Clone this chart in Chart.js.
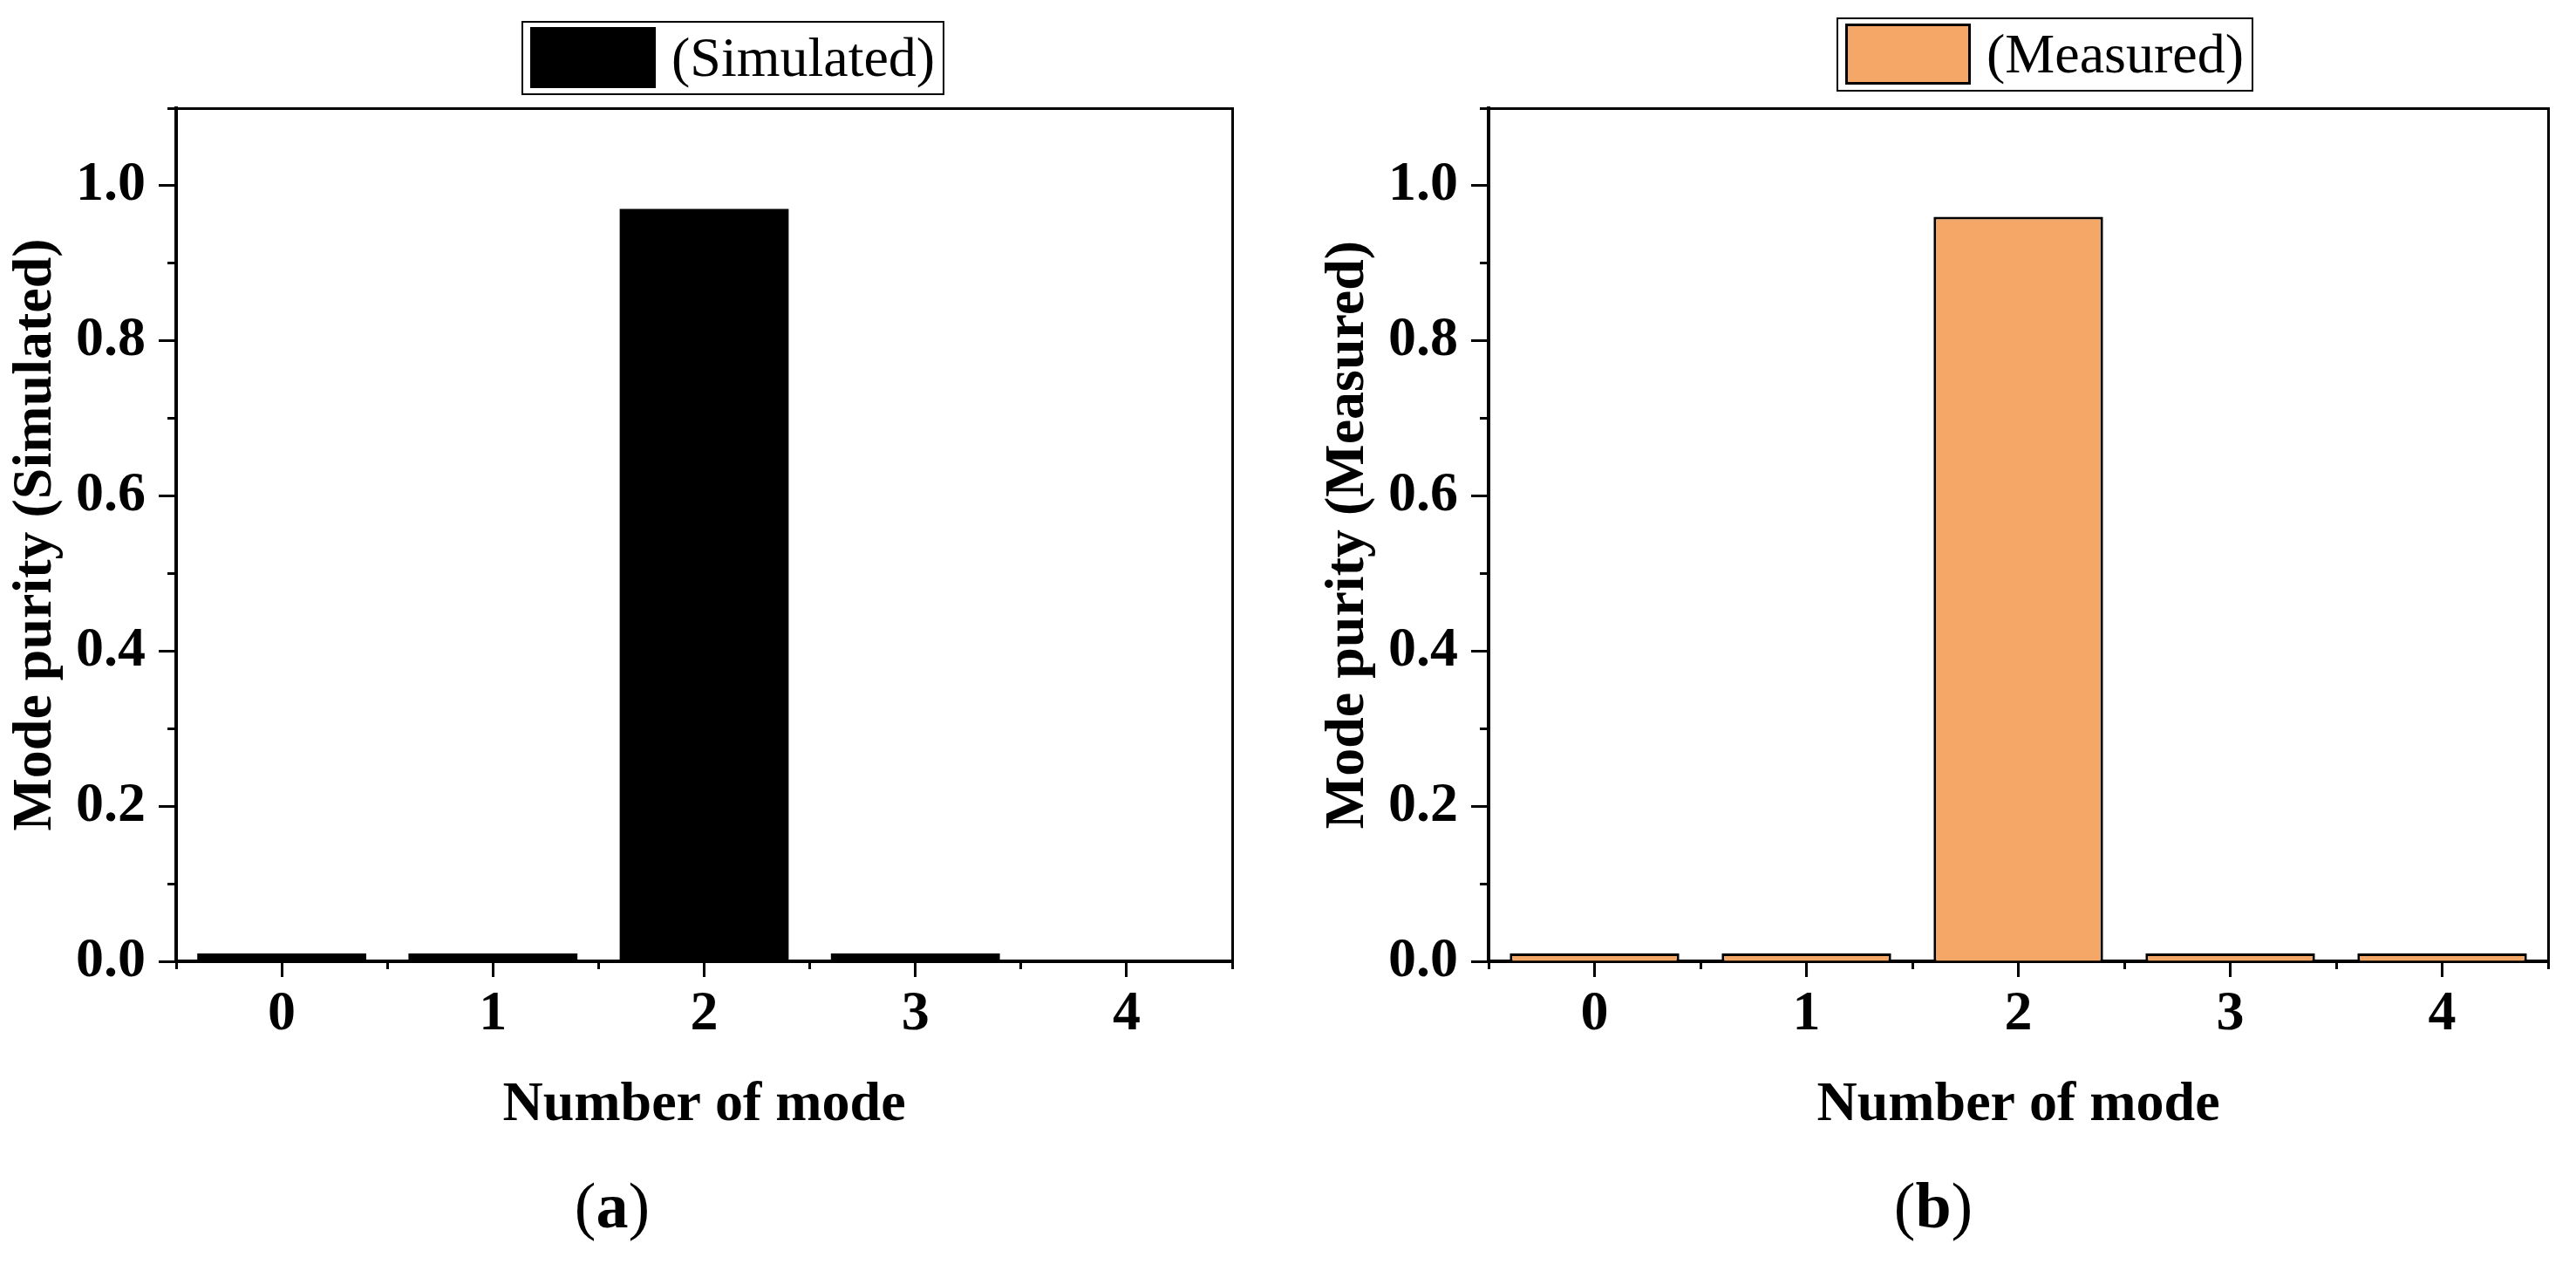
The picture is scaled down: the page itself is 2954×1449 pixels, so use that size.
<!DOCTYPE html>
<html>
<head>
<meta charset="utf-8">
<title>Mode purity</title>
<script src="https://cdn.jsdelivr.net/npm/chart.js@4.4.1/dist/chart.umd.min.js"></script>
<style>
  html, body { margin:0; padding:0; background:#fff; }
  body { width:2954px; height:1449px; position:relative; overflow:hidden;
         font-family:"Liberation Serif","Times New Roman",serif; color:#000; }
  canvas { position:absolute; top:0; }
  #chartA { left:0; }
  #chartB { left:1505px; }
  .legend { position:absolute; display:flex; align-items:flex-start; border:2px solid #000;
            padding:5px 9px 6px 8px; background:#fff; }
  .legend .swatch { display:block; width:144px; height:70px; box-sizing:border-box; }
  .legend .text { font-size:64px; line-height:64px; margin-left:18px; margin-top:3px; white-space:nowrap; }
  #legendA { left:598px; top:24px; }
  #legendB { left:2106px; top:20px; }
  .panel { position:absolute; top:1345px; width:200px; text-align:center; font-size:74px; line-height:74px; }
  #panelA { left:602px; }
  #panelB { left:2117px; }
</style>
</head>
<body>
<canvas id="chartA" width="1449" height="1340"></canvas>
<canvas id="chartB" width="1449" height="1340"></canvas>
<div class="legend" id="legendA"></div>
<div class="legend" id="legendB"></div>
<div class="panel" id="panelA">(<b>a</b>)</div>
<div class="panel" id="panelB">(<b>b</b>)</div>
<script>
const MODES = ["0", "1", "2", "3", "4"];
const SIMULATED = [0.01, 0.01, 0.97, 0.01, 0];
const MEASURED  = [0.01, 0.01, 0.96, 0.01, 0.01];
const Y_MIN = 0;
const Y_MAX = 1.1;
const Y_MAJOR = 0.2;
const Y_MINOR = 0.1;

Chart.defaults.font.family = '"Liberation Serif", "Times New Roman", serif';
Chart.defaults.color = "#000";

const BOLD = { size: 64, weight: "bold" };

function buildLegend(chart, el) {
  chart.data.datasets.forEach(ds => {
    const sw = document.createElement("span");
    sw.className = "swatch";
    sw.style.background = ds.backgroundColor;
    if (ds.borderWidth) sw.style.border = ds.borderWidth + "px solid " + ds.borderColor;
    const tx = document.createElement("span");
    tx.className = "text";
    tx.textContent = ds.label;
    el.append(sw, tx);
  });
}

function makeChart(id, legendId, label, data, fill, borderWidth, padRight, yTitle) {
  const ctx = document.getElementById(id).getContext("2d");
  const chart = new Chart(ctx, {
    type: "bar",
    data: {
      labels: MODES,
      datasets: [{
        label: label,
        data: data,
        xAxisID: "x",
        yAxisID: "y",
        backgroundColor: fill,
        borderColor: "#000",
        borderWidth: borderWidth,
        barPercentage: 0.8,
        categoryPercentage: 1.0,
      }]
    },
    options: {
      responsive: false,
      animation: false,
      layout: { padding: { top: 124, right: padRight, left: 0, bottom: 0 } },
      plugins: { legend: { display: false }, tooltip: { enabled: false } },
      scales: {
        x: {
          type: "category", position: "bottom", weight: 1, offset: true,
          grid: { offset: false, drawOnChartArea: false, tickLength: 18, tickWidth: 3, tickColor: "#000" },
          border: { display: true, color: "#000", width: 4 },
          ticks: { font: BOLD, color: "#000", padding: 5, maxRotation: 0, autoSkip: false },
          title: { display: true, text: "Number of mode", font: BOLD, color: "#000", padding: { top: 0, bottom: 34 } },
          afterFit: s => { s.height = 238; }
        },
        xMinor: {
          type: "category", axis: "x", position: "bottom", weight: 0, offset: true,
          grid: { offset: true, drawOnChartArea: false, tickLength: 9, tickWidth: 3, tickColor: "#000" },
          border: { display: false },
          ticks: { display: false },
          afterFit: s => { s.height = 0; }
        },
        xTop: {
          type: "category", axis: "x", position: "top", offset: true,
          grid: { display: false },
          border: { display: true, color: "#000", width: 3 },
          ticks: { display: false },
          afterFit: s => { s.height = 0; }
        },
        y: {
          type: "linear", position: "left", weight: 1, min: Y_MIN, max: Y_MAX,
          grid: { drawOnChartArea: false, tickLength: 20, tickWidth: 3, tickColor: "#000" },
          border: { display: true, color: "#000", width: 4 },
          ticks: { stepSize: Y_MAJOR, includeBounds: false, font: BOLD, color: "#000", padding: 15,
                   callback: v => v.toFixed(1) },
          title: { display: true, text: yTitle, font: BOLD, color: "#000", padding: { top: 3, bottom: 0 } },
          afterFit: s => { s.width = 202; }
        },
        yMinor: {
          type: "linear", axis: "y", position: "left", weight: 0, min: Y_MIN, max: Y_MAX,
          grid: { drawOnChartArea: false, tickLength: 10, tickWidth: 3, tickColor: "#000" },
          border: { display: false },
          ticks: { stepSize: Y_MINOR, includeBounds: false, display: false },
          afterFit: s => { s.width = 0; }
        },
        yRight: {
          type: "linear", axis: "y", position: "right", min: Y_MIN, max: Y_MAX,
          grid: { display: false },
          border: { display: true, color: "#000", width: 3 },
          ticks: { display: false },
          afterFit: s => { s.width = 0; }
        }
      }
    }
  });
  buildLegend(chart, document.getElementById(legendId));
  return chart;
}

makeChart("chartA", "legendA", "(Simulated)", SIMULATED, "#000000", 0, 36, "Mode purity (Simulated)");
makeChart("chartB", "legendB", "(Measured)", MEASURED, "#F4A766", 3, 32, "Mode purity (Measured)");
</script>
</body>
</html>
